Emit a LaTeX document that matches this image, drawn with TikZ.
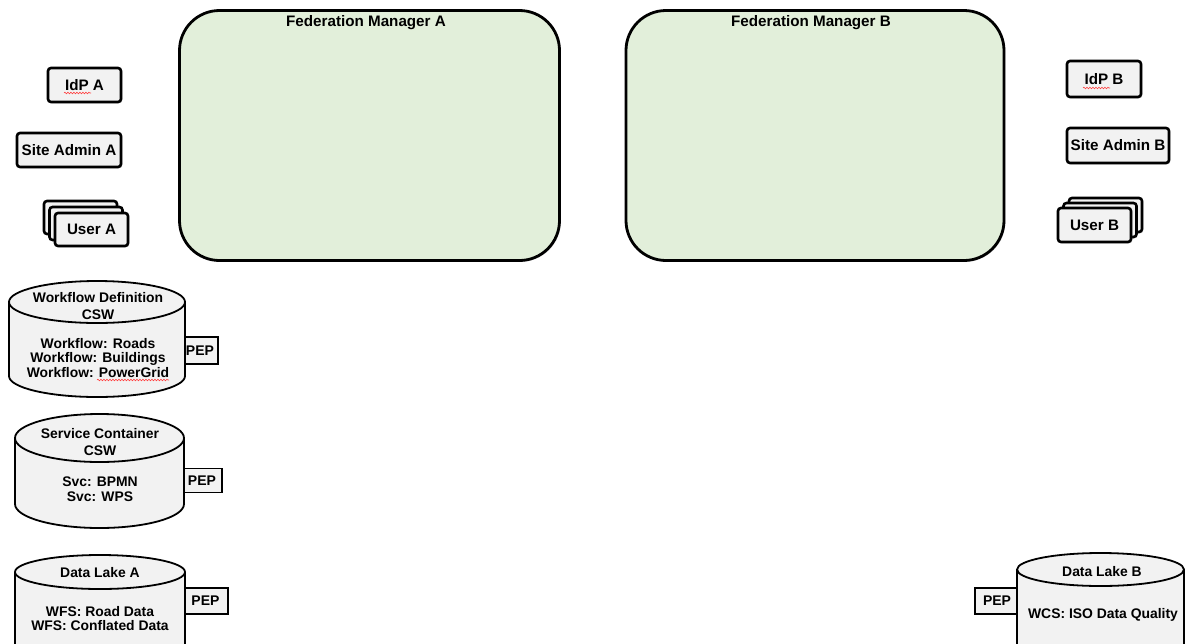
\documentclass[tikz,border=0pt]{standalone}
\usepackage{fontspec}
\setmainfont{Liberation Sans}
\usetikzlibrary{shadows,decorations.pathmorphing}
\definecolor{fedgreen}{HTML}{E2EFDA}
\definecolor{boxgray}{HTML}{F2F2F2}
\begin{document}
\begin{tikzpicture}[x=1pt,y=1pt,
  lbl/.style={font=\bfseries\fontsize{15.2}{16}\selectfont},
  shd/.style={drop shadow={shadow xshift=1.3pt,shadow yshift=-1.3pt,opacity=0.35}},
  box/.style={draw, line width=2.6pt, rounded corners=3pt, fill=boxgray, lbl, inner sep=0pt, shd},
  fed/.style={draw, line width=2.8pt, rounded corners=40pt, fill=fedgreen, inner sep=0pt, shd},
  cyl/.style={draw, line width=1.8pt, fill=boxgray},
  cyledge/.style={draw, line width=1.8pt},
  ctitle/.style={font=\bfseries\fontsize{13.9}{17}\selectfont, align=center, inner sep=0pt},
  cbody/.style={font=\bfseries\fontsize{13.9}{14.5}\selectfont, align=center, inner sep=0pt},
  pep/.style={draw, line width=1.8pt, fill=boxgray, font=\bfseries\fontsize{14}{15}\selectfont, inner sep=0pt},
  squig/.style={draw=red!75, line width=0.6pt, decorate, decoration={snake, segment length=3pt, amplitude=0.8pt}}
]
\useasboundingbox (0,0) rectangle (1186,-643);

% Federation managers
\node[fed, minimum width=380pt, minimum height=250pt] (fedA) at (369.5,-135.5) {};
\node[lbl] (fedAt) at (366,-23) {Federation Manager A};
\node[fed, minimum width=378pt, minimum height=250pt] (fedB) at (815,-135.5) {};
\node[lbl] (fedBt) at (811,-23) {Federation Manager B};

% Left actors
\node[box, minimum width=73pt, minimum height=34pt] (idpA) at (84.5,-85) {IdP A};
\node[box, minimum width=104pt, minimum height=34pt] (adminA) at (69,-150) {Site Admin A};
\node[box, minimum width=73pt, minimum height=33pt] (userA3) at (80.5,-217.5) {};
\node[box, minimum width=73pt, minimum height=33pt] (userA2) at (86,-223.5) {};
\node[box, minimum width=73pt, minimum height=33pt] (userA) at (91.5,-229.5) {User A};

% Right actors
\node[box, minimum width=74pt, minimum height=36pt] (idpB) at (1104,-79) {IdP B};
\node[box, minimum width=102pt, minimum height=35pt] (adminB) at (1118,-145.5) {Site Admin B};
\node[box, minimum width=73pt, minimum height=34pt] (userB3) at (1105.5,-215) {};
\node[box, minimum width=73pt, minimum height=34pt] (userB2) at (1100,-220) {};
\node[box, minimum width=73pt, minimum height=34pt] (userB) at (1094.5,-225) {User B};

% PEPs (drawn before cylinders)
\node[pep, minimum width=36pt, minimum height=27pt] (pep1) at (200,-350.5) {PEP};
\node[pep, minimum width=40pt, minimum height=24pt] (pep2) at (202,-480.5) {PEP};
\node[pep, minimum width=45pt, minimum height=26pt] (pep3) at (205.5,-601) {PEP};
\node[pep, minimum width=44pt, minimum height=26pt] (pep4) at (997,-601) {PEP};

% Workflow Definition CSW cylinder
\draw[cyl] (9,-302) -- (9,-376) arc[start angle=180,end angle=360,x radius=88,y radius=21]
  -- (185,-302) arc[start angle=0,end angle=180,x radius=88,y radius=21] -- cycle;
\draw[cyledge] (9,-302) arc[start angle=180,end angle=360,x radius=88,y radius=21];
\node[ctitle] (wfT) at (98,-306) {Workflow Definition\\CSW};
\node[cbody] (wfB) at (98,-358) {Workflow: Roads\\Workflow: Buildings\\Workflow: PowerGrid};

% Service Container CSW cylinder
\draw[cyl] (15,-438) -- (15,-504) arc[start angle=180,end angle=360,x radius=84.5,y radius=24]
  -- (184,-438) arc[start angle=0,end angle=180,x radius=84.5,y radius=24] -- cycle;
\draw[cyledge] (15,-438) arc[start angle=180,end angle=360,x radius=84.5,y radius=24];
\node[ctitle] (scT) at (100,-442) {Service Container\\CSW};
\node[cbody] (scB) at (100,-489) {Svc: BPMN\\Svc: WPS};

% Data Lake A cylinder
\draw[cyl] (15,-572) -- (15,-660) arc[start angle=180,end angle=360,x radius=85,y radius=17]
  -- (185,-572) arc[start angle=0,end angle=180,x radius=85,y radius=17] -- cycle;
\draw[cyledge] (15,-572) arc[start angle=180,end angle=360,x radius=85,y radius=17];
\node[ctitle] (dlAT) at (100,-573) {Data Lake A};
\node[cbody] (dlAB) at (100,-618.5) {WFS: Road Data\\WFS: Conflated Data};

% Data Lake B cylinder
\draw[cyl] (1017,-569.5) -- (1017,-660) arc[start angle=180,end angle=360,x radius=83.5,y radius=16.5]
  -- (1184,-569.5) arc[start angle=0,end angle=180,x radius=83.5,y radius=16.5] -- cycle;
\draw[cyledge] (1017,-569.5) arc[start angle=180,end angle=360,x radius=83.5,y radius=16.5];
\node[ctitle] (dlBT) at (1102,-572) {Data Lake B};
\node[cbody] (dlBB) at (1103,-615) {WCS: ISO Data Quality};

% spell-check squiggles
\draw[squig] (64,-93) -- (91,-93);
\draw[squig] (1083,-88) -- (1110,-88);
\draw[squig] (97,-380) -- (169,-380);
\end{tikzpicture}
\end{document}
